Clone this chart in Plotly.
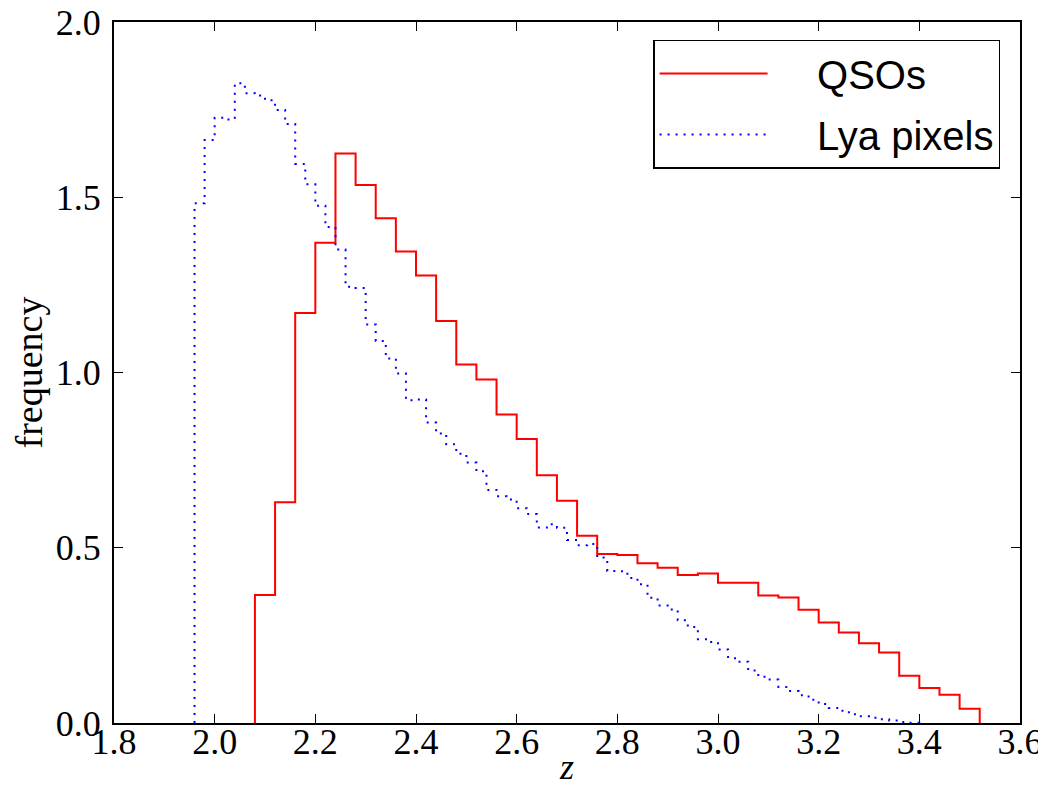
import numpy as np
import plotly.graph_objects as go

# QSO redshift histogram (bin width 0.04 starting at 2.08)
qso_start = 2.08
qso_width = 0.04
qso_values = [0.365, 0.63, 1.17, 1.37, 1.625, 1.535, 1.44, 1.345, 1.277, 1.147,
              1.023, 0.98, 0.88, 0.81, 0.707, 0.634, 0.534, 0.482, 0.479, 0.456,
              0.443, 0.4225, 0.4265, 0.40, 0.40, 0.364, 0.358, 0.323, 0.287, 0.258,
              0.2275, 0.201, 0.135, 0.100, 0.0805, 0.041]

# Lya pixel redshift histogram (bin width 0.02 starting at 1.96)
lya_start = 1.96
lya_width = 0.02
lya_values = [1.483, 1.663, 1.727, 1.722, 1.825, 1.797, 1.790, 1.777, 1.749, 1.709,
              1.595, 1.537, 1.476, 1.415, 1.351, 1.245, 1.241, 1.137, 1.090, 1.040,
              0.997, 0.921, 0.923, 0.857, 0.826, 0.795, 0.768, 0.743, 0.718, 0.665,
              0.647, 0.638, 0.613, 0.596, 0.558, 0.567, 0.557, 0.522, 0.507, 0.511,
              0.472, 0.434, 0.433, 0.414, 0.396, 0.357, 0.335, 0.324, 0.293, 0.274,
              0.239, 0.231, 0.2095, 0.185, 0.175, 0.1495, 0.132, 0.124, 0.103, 0.091,
              0.079, 0.066, 0.054, 0.043, 0.035, 0.025, 0.019, 0.015, 0.0105, 0.007,
              0.003, 0.001]

series_names = ["QSOs", "Lya pixels"]
x_ticks = [1.8, 2.0, 2.2, 2.4, 2.6, 2.8, 3.0, 3.2, 3.4, 3.6]
y_ticks = [0.0, 0.5, 1.0, 1.5, 2.0]


def step_outline(start, width, values):
    n = len(values)
    edges = start + width * np.arange(n + 1)
    xs = [edges[0]] + list(edges[:-1]) + [edges[-1], edges[-1]]
    ys = [0.0] + list(values) + [values[-1], 0.0]
    return xs, ys


pad = "\u00a0" * 4  # gap between legend sample line and label

fig = go.Figure()
qx, qy = step_outline(qso_start, qso_width, qso_values)
lx, ly = step_outline(lya_start, lya_width, lya_values)

fig.add_trace(go.Scatter(x=qx, y=qy, mode="lines", line_shape="hv",
                         name=pad + series_names[0], legendgroup="a",
                         line=dict(color="#ff0000", width=2)))
fig.add_trace(go.Scatter(x=lx, y=ly, mode="lines", line_shape="hv",
                         name=pad + series_names[1], legendgroup="b",
                         line=dict(color="#0000ff", width=2, dash="2px,6px")))

serif = "Liberation Serif, DejaVu Serif, serif"
axis_common = dict(showline=True, linecolor="black", linewidth=2, mirror="ticks",
                   ticks="inside", ticklen=9, tickwidth=1, tickcolor="black",
                   showgrid=False, zeroline=False, automargin=False,
                   ticklabeloverflow="allow",
                   tickfont=dict(family=serif, size=36, color="black"))

# the page body adds an 8px offset, so the figure is 8px smaller on each axis
fig.update_layout(
    width=1038, height=779,
    margin=dict(l=106, r=26, t=14, b=64),
    paper_bgcolor="white", plot_bgcolor="white",
    xaxis=dict(range=[1.8, 3.6], tickvals=x_ticks, ticktext=[f"{v:.1f}" for v in x_ticks],
               ticklabelstandoff=-14,
               title=dict(text="<i>z</i>", font=dict(family=serif, size=36, color="black")),
               **axis_common),
    yaxis=dict(range=[0, 2.0], tickvals=y_ticks, ticktext=[f"{v:.1f}" for v in y_ticks],
               ticklabelstandoff=4,
               title=dict(text="frequency", font=dict(family=serif, size=38, color="black")),
               **axis_common),
    legend=dict(x=0.978, y=0.975, xanchor="right", yanchor="top",
                bgcolor="white", bordercolor="black", borderwidth=1.5,
                font=dict(family="Liberation Sans, Arial, sans-serif", size=40, color="black"),
                itemwidth=108, tracegroupgap=6),
    showlegend=True,
)

fig.write_html("out.html")
